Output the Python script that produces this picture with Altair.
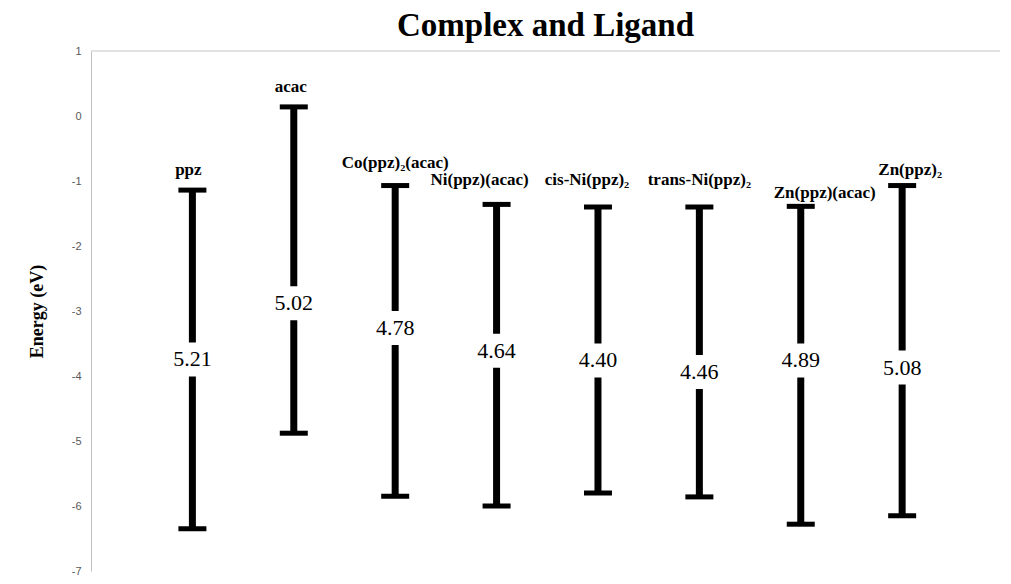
import altair as alt
import pandas as pd

# ---- data ----
names = ["ppz", "acac", "Co(ppz)₂(acac)", "Ni(ppz)(acac)", "cis-Ni(ppz)₂",
         "trans-Ni(ppz)₂", "Zn(ppz)(acac)", "Zn(ppz)₂"]
lumo = [-1.14, 0.14, -1.07, -1.36, -1.40, -1.40, -1.39, -1.07]
homo = [-6.35, -4.88, -5.85, -6.00, -5.80, -5.86, -6.28, -6.15]
gap_text = ["5.21", "5.02", "4.78", "4.64", "4.40", "4.46", "4.89", "5.08"]
gap_label_e = [-3.745, -2.88, -3.26, -3.61, -3.76, -3.94, -3.76, -3.87]
name_label_e = [-0.825, 0.452, -0.72, -0.99, -0.99, -0.99, -1.19, -0.825]
name_label_dx = [-4, -3, 0, -17, -11, 0, 24, 8]
y_ticks = [-7, -6, -5, -4, -3, -2, -1, 0, 1]

W, H = 909, 520
XMAX = 8.965
PX_PER_UNIT = W / XMAX

df = pd.DataFrame({
    "pos": list(range(1, len(names) + 1)),
    "name": names,
    "lumo": lumo,
    "homo": homo,
    "gap": gap_text,
    "gap_e": gap_label_e,
    "name_e": name_label_e,
    "dx": name_label_dx,
})

xs = alt.Scale(domain=[0, XMAX], nice=False, zero=False)
ys = alt.Scale(domain=[-7, 1], nice=False, zero=False)
X = alt.X("pos:Q", scale=xs, axis=None)

base = alt.Chart(df)

top_line = alt.Chart(pd.DataFrame({"v": [1]})).mark_rule(
    color="#d9d9d9", strokeWidth=1.5
).encode(
    y=alt.Y("v:Q", scale=ys,
            axis=alt.Axis(values=y_ticks, grid=False, ticks=False,
                          labelExpr="'' + datum.value",
                          domainColor="#bfbfbf", domainWidth=1,
                          labelColor="#595959", labelFontSize=11,
                          labelFont="Liberation Sans", labelPadding=10,
                          title="Energy (eV)", titleFont="Liberation Serif",
                          titleFontSize=18, titleFontWeight="bold",
                          titleColor="black", titleX=-54, titleY=H / 2,
                          titleAlign="center", titleBaseline="middle",
                          titleAngle=-90)),
    x=alt.value(0), x2=alt.value(W),
)

bars = base.mark_rule(color="black", strokeWidth=7).encode(
    x=X, y=alt.Y("homo:Q", scale=ys), y2="lumo:Q"
)

cap_top = base.mark_tick(color="black", orient="horizontal", size=28,
                         thickness=5, opacity=1).encode(
    x=X, y=alt.Y("lumo:Q", scale=ys))
cap_bot = base.mark_tick(color="black", orient="horizontal", size=28,
                         thickness=5, opacity=1).encode(
    x=X, y=alt.Y("homo:Q", scale=ys))

gap_bg = base.mark_tick(color="white", orient="horizontal", size=48,
                        thickness=34, opacity=1).encode(
    x=X, y=alt.Y("gap_e:Q", scale=ys))

gap_lbl = base.mark_text(font="Liberation Serif", fontSize=22,
                         color="black", baseline="middle",
                         align="center").encode(
    x=X, y=alt.Y("gap_e:Q", scale=ys), text="gap:N")

name_lbl = base.transform_calculate(
    lx=f"datum.pos + datum.dx / {PX_PER_UNIT}"
).mark_text(font="Liberation Serif", fontSize=17,
            fontWeight="bold", color="black",
            baseline="middle", align="center").encode(
    x=alt.X("lx:Q", scale=xs, axis=None),
    y=alt.Y("name_e:Q", scale=ys), text="name:N")

chart = alt.layer(top_line, bars, cap_top, cap_bot, gap_bg, gap_lbl,
                  name_lbl).properties(
    width=W, height=H,
    background="white",
    title=alt.TitleParams("Complex and Ligand", font="Liberation Serif",
                          fontSize=33, fontWeight="bold", color="black",
                          anchor="middle", offset=2),
    autosize=alt.AutoSizeParams(type="none"),
    padding={"left": 83, "top": 43, "right": 3, "bottom": 7},
).configure_view(strokeWidth=0)

chart.save("out.html", embed_options={"renderer": "svg", "actions": False})
